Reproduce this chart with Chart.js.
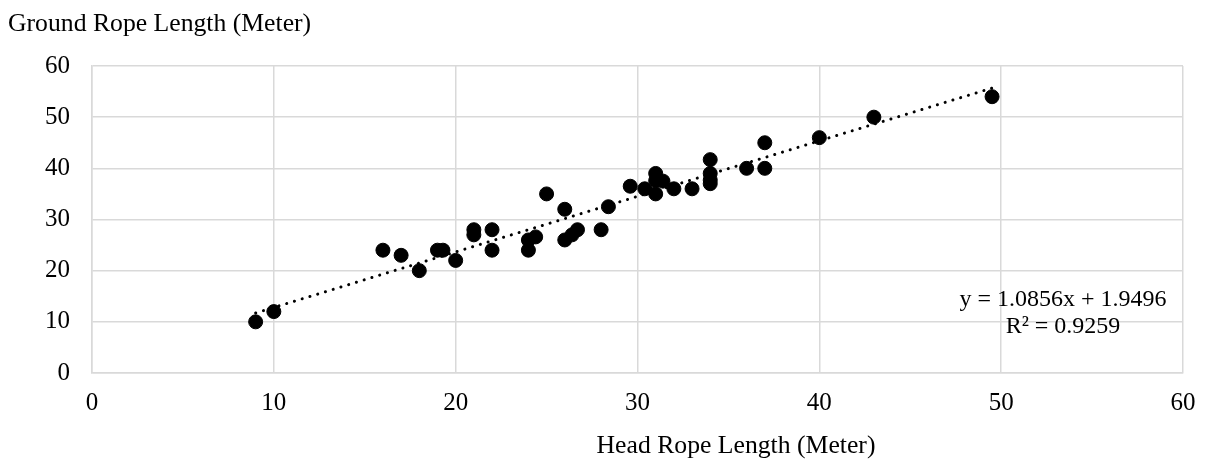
<!DOCTYPE html>
<html>
<head>
<meta charset="utf-8">
<script src="https://cdn.jsdelivr.net/npm/chart.js@4.4.1/dist/chart.umd.min.js"></script>
<style>
  html, body { margin: 0; padding: 0; background: #ffffff; }
  #wrap { width: 1205px; height: 460px; }
</style>
</head>
<body>
<div id="wrap"><canvas id="c" width="1205" height="460"></canvas></div>
<script>
// ---- data ----
const headRope = [9, 10, 16, 17, 18, 19, 19.3, 20, 21, 21, 22, 22, 24, 24, 24.4, 25, 26, 26, 26.4, 26.7, 28, 28.4, 29.6, 30.4, 31, 31, 31, 31.4, 32, 33, 34, 34, 34, 34, 36, 37, 37, 40, 43, 49.5];
const groundRope = [10, 12, 24, 23, 20, 24, 24, 22, 28, 27, 28, 24, 24, 26, 26.6, 35, 32, 26, 27, 28, 28, 32.5, 36.5, 36, 39, 37.6, 35, 37.5, 36, 36, 41.7, 39, 37.7, 37, 40, 45, 40, 46, 50, 54];
const xTicks = [0, 10, 20, 30, 40, 50, 60];
const yTicks = [0, 10, 20, 30, 40, 50, 60];
const trendSlope = 1.0856;
const trendIntercept = 1.9496;
const rSquared = 0.9259;
const xAxisTitle = 'Head Rope Length (Meter)';
const yAxisTitle = 'Ground Rope Length (Meter)';

const points = headRope.map((x, i) => ({ x: x, y: groundRope[i] }));
const xMin = Math.min(...headRope), xMax = Math.max(...headRope);
const trend = [xMin, xMax].map(x => ({ x: x, y: trendSlope * x + trendIntercept }));

const FONT = "'Liberation Serif', 'Times New Roman', serif";
const GRID = '#d9d9d9';

const textPlugin = {
  id: 'texts',
  afterDraw(chart) {
    const ctx = chart.ctx;
    ctx.save();
    ctx.fillStyle = '#000';
    ctx.textBaseline = 'middle';
    ctx.font = '25.7px ' + FONT;
    ctx.textAlign = 'left';
    ctx.fillText(yAxisTitle, 8, 24);
    ctx.textAlign = 'center';
    ctx.fillText(xAxisTitle, 736, 446);
    ctx.font = '24px ' + FONT;
    ctx.fillText('y = ' + trendSlope.toFixed(4) + 'x + ' + trendIntercept.toFixed(4), 1063, 300);
    ctx.fillText('R\u00B2 = ' + rSquared.toFixed(4), 1063, 327);
    ctx.restore();
  }
};

new Chart(document.getElementById('c'), {
  type: 'scatter',
  data: {
    datasets: [
      {
        label: 'Data',
        data: points,
        backgroundColor: '#000',
        borderColor: '#000',
        borderWidth: 1,
        pointRadius: 7,
        pointHoverRadius: 7,
        order: 2
      },
      {
        label: 'Trend',
        type: 'line',
        data: trend,
        borderColor: '#000',
        borderWidth: 3,
        borderDash: [0.1, 8],
        borderCapStyle: 'round',
        pointRadius: 0,
        fill: false,
        order: 1
      }
    ]
  },
  options: {
    responsive: false,
    animation: false,
    devicePixelRatio: 1,
    layout: { padding: { top: 66, right: 22, bottom: 0, left: 0 } },
    plugins: {
      legend: { display: false },
      tooltip: { enabled: false },
      title: { display: false }
    },
    scales: {
      x: {
        type: 'linear',
        min: 0, max: 60,
        afterBuildTicks: (s) => { s.ticks = xTicks.map(v => ({ value: v })); },
        afterFit: (s) => { s.height = 87; s.paddingRight = 0; s.paddingLeft = 0; },
        ticks: { font: { family: FONT, size: 25 }, color: '#000', padding: 15, maxRotation: 0 },
        grid: { color: GRID, lineWidth: 1.5, drawTicks: false },
        border: { color: GRID, width: 1.5 }
      },
      y: {
        type: 'linear',
        min: 0, max: 60,
        afterBuildTicks: (s) => { s.ticks = yTicks.map(v => ({ value: v })); },
        afterFit: (s) => { s.width = 92; s.paddingTop = 0; s.paddingBottom = 0; },
        ticks: { font: { family: FONT, size: 25 }, color: '#000', padding: 22 },
        grid: { color: GRID, lineWidth: 1.5, drawTicks: false },
        border: { color: GRID, width: 1.5 }
      }
    }
  },
  plugins: [textPlugin]
});
</script>
</body>
</html>
